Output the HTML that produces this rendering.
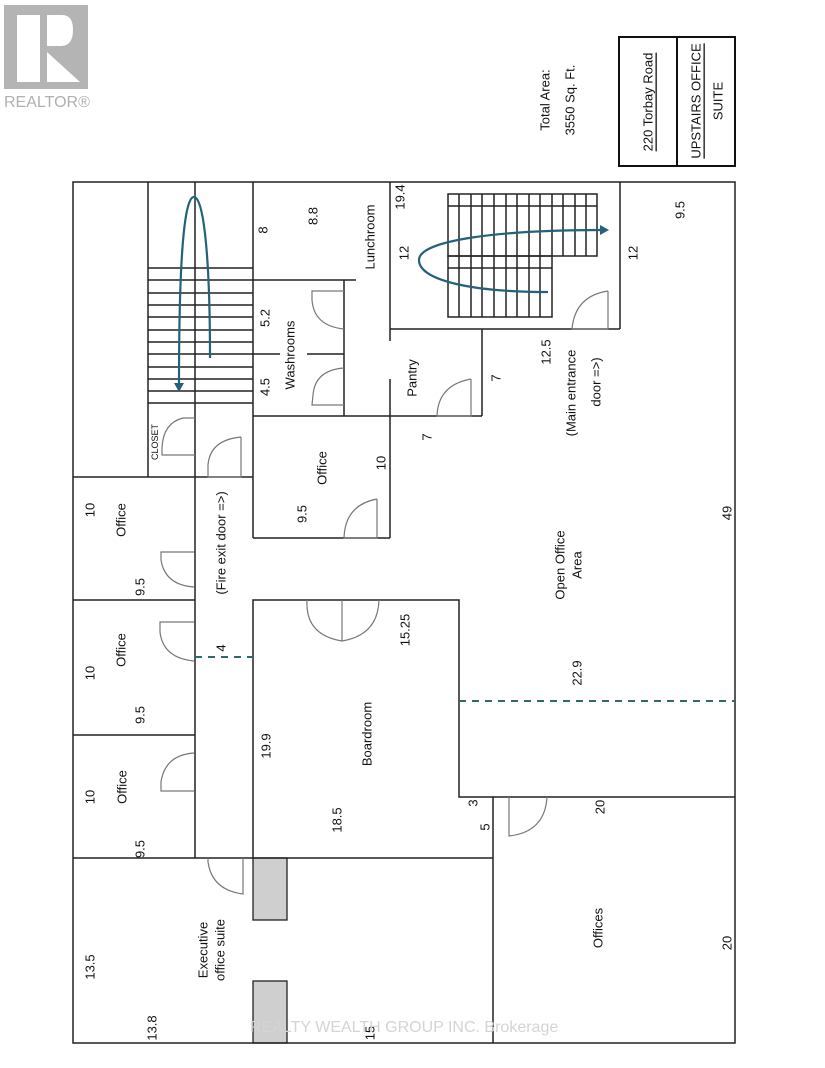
<!DOCTYPE html>
<html><head><meta charset="utf-8"><style>
html,body{margin:0;padding:0;background:#fff;}
svg{display:block;}
text{font-family:"Liberation Sans",Arial,sans-serif;font-size:13px;fill:#111;}
</style></head><body>
<svg width="825" height="1068" viewBox="0 0 825 1068" xmlns="http://www.w3.org/2000/svg">
<rect x="4" y="5" width="84" height="84" fill="#b4b4b4"/>
<rect x="17" y="15" width="23" height="67" fill="#fff"/>
<path d="M47,15 L62,15 Q73,15 73,30 Q73,45 62,46 L47,46 Z" fill="#fff"/>
<path d="M47,52 L47,82 L80,82 Z" fill="#fff"/>
<text x="4" y="107" style="font-size:16px;fill:#b0b0b0">REALTOR®</text>

<g transform="rotate(-90,545,100)"><text x="545" y="100" text-anchor="middle" dominant-baseline="central">Total Area:</text></g>
<g transform="rotate(-90,570,100)"><text x="570" y="100" text-anchor="middle" dominant-baseline="central">3550 Sq. Ft.</text></g>
<rect x="619" y="37" width="116" height="129" fill="none" stroke="#111" stroke-width="2"/>
<line x1="677" y1="37" x2="677" y2="166" stroke="#111" stroke-width="2"/>
<g transform="rotate(-90,648,102)"><text x="648" y="102" text-anchor="middle" dominant-baseline="central" text-decoration="underline">220 Torbay Road</text></g>
<g transform="rotate(-90,696,101)"><text x="696" y="101" text-anchor="middle" dominant-baseline="central" text-decoration="underline">UPSTAIRS OFFICE</text></g>
<g transform="rotate(-90,718,101)"><text x="718" y="101" text-anchor="middle" dominant-baseline="central">SUITE</text></g>

<rect x="253" y="858" width="34" height="62" fill="#cfcfcf" stroke="#222" stroke-width="1.3"/>
<rect x="253" y="981" width="34" height="62" fill="#cfcfcf" stroke="#222" stroke-width="1.3"/>

<g stroke="#222" stroke-width="1.5" fill="none">
<rect x="73" y="182" width="662" height="861"/>
<line x1="148" y1="182" x2="148" y2="477"/>
<line x1="195" y1="182" x2="195" y2="858"/>
<line x1="253" y1="182" x2="253" y2="538"/>
<line x1="73" y1="477" x2="253" y2="477"/>
<line x1="148" y1="403" x2="253" y2="403"/>
<path d="M148,268H253M148,280H253M148,293H253M148,305H253M148,317H253M148,330H253M148,342H253M148,354H253M148,367H253M148,379H253M148,391H253"/>
<line x1="253" y1="280" x2="356" y2="280"/>
<line x1="344" y1="280" x2="344" y2="416"/>
<line x1="253" y1="416" x2="482" y2="416"/>
<line x1="253" y1="354" x2="280" y2="354"/>
<line x1="307" y1="354" x2="344" y2="354"/>
<line x1="390" y1="182" x2="390" y2="341"/>
<line x1="390" y1="379" x2="390" y2="538"/>
<line x1="390" y1="329" x2="620" y2="329"/>
<line x1="620" y1="182" x2="620" y2="329"/>
<line x1="482" y1="329" x2="482" y2="416"/>
<line x1="253" y1="538" x2="390" y2="538"/>
<line x1="73" y1="600" x2="195" y2="600"/>
<line x1="73" y1="735" x2="195" y2="735"/>
<path d="M253,858 V600 H459 V797 H493 V1043"/>
<line x1="493" y1="797" x2="735" y2="797"/>
<line x1="73" y1="858" x2="493" y2="858"/>
<rect x="448" y="194" width="149" height="62"/>
<rect x="448" y="256" width="104" height="61"/>
<path d="M448,206H597M448,268H552"/>
<path d="M459,194V317M471,194V317M482,194V317M494,194V317M506,194V317M517,194V317M529,194V317M540,194V317M552,194V256M563,194V256M575,194V256M586,194V256"/>
</g>

<g stroke="#2e6a6a" stroke-width="2" stroke-dasharray="7,6" fill="none">
<line x1="195" y1="657" x2="253" y2="657"/>
<line x1="459" y1="701" x2="735" y2="701"/>
</g>

<g stroke="#23627a" stroke-width="2.2" fill="none">
<path d="M210,358 C210,250 203,197 194,197 C184,197 179,260 179,384"/>
<path d="M548,292 C470,292 419,280 419,260 C419,240 500,230 602,230"/>
</g>
<path d="M174,383 L184,383 L179,392 Z" fill="#23627a"/>
<path d="M600,225 L609,230 L600,235 Z" fill="#23627a"/>

<g stroke="#777" stroke-width="1.2" fill="none">
<path d="M195,418 L183,418 Q163,423 162,448 L162,455 L195,455"/>
<path d="M241,437 L241,477 L208,477 L208,465 Q210,440 241,437"/>
<path d="M344,291 L312,291 L312,300 Q314,326 344,329"/>
<path d="M344,368 Q315,370 313,395 L312,405 L344,405"/>
<path d="M471,379 L471,416 L437,416 Q438,385 471,379"/>
<path d="M608,291 L608,329 L572,329 Q575,296 608,291"/>
<path d="M377,499 L377,538 L344,538 Q345,505 377,499"/>
<path d="M307,600 Q305,635 342,641 Q378,635 379,600"/>
<line x1="342" y1="600" x2="342" y2="641"/>
<path d="M194,552 L161,552 L161,560 Q165,585 194,587"/>
<path d="M194,622 L160,622 L160,632 Q163,658 194,661"/>
<path d="M194,753 Q165,755 161,782 L161,791 L194,791"/>
<path d="M208,858 L208,862 Q212,890 243,894 L243,858"/>
<path d="M509,797 L509,836 Q545,832 547,797"/>
</g>

<g text-anchor="middle" dominant-baseline="central">
<g transform="rotate(-90,263,230)"><text x="263" y="230">8</text></g>
<g transform="rotate(-90,313,216)"><text x="313" y="216">8.8</text></g>
<g transform="rotate(-90,370,237)"><text x="370" y="237">Lunchroom</text></g>
<g transform="rotate(-90,400,197)"><text x="400" y="197">19.4</text></g>
<g transform="rotate(-90,404,253)"><text x="404" y="253">12</text></g>
<g transform="rotate(-90,680,210)"><text x="680" y="210">9.5</text></g>
<g transform="rotate(-90,633,253)"><text x="633" y="253">12</text></g>
<g transform="rotate(-90,265,318)"><text x="265" y="318">5.2</text></g>
<g transform="rotate(-90,290,355)"><text x="290" y="355">Washrooms</text></g>
<g transform="rotate(-90,265,387)"><text x="265" y="387">4.5</text></g>
<g transform="rotate(-90,412,378)"><text x="412" y="378">Pantry</text></g>
<g transform="rotate(-90,496,378)"><text x="496" y="378">7</text></g>
<g transform="rotate(-90,155,442)"><text x="155" y="442" style="font-size:9px">CLOSET</text></g>
<g transform="rotate(-90,427,437)"><text x="427" y="437">7</text></g>
<g transform="rotate(-90,546,352)"><text x="546" y="352">12.5</text></g>
<g transform="rotate(-90,571,393)"><text x="571" y="393">(Main entrance</text></g>
<g transform="rotate(-90,596,382)"><text x="596" y="382">door =&gt;)</text></g>
<g transform="rotate(-90,322,468)"><text x="322" y="468">Office</text></g>
<g transform="rotate(-90,381,463)"><text x="381" y="463">10</text></g>
<g transform="rotate(-90,302,514)"><text x="302" y="514">9.5</text></g>
<g transform="rotate(-90,90,510)"><text x="90" y="510">10</text></g>
<g transform="rotate(-90,121,520)"><text x="121" y="520">Office</text></g>
<g transform="rotate(-90,140,587)"><text x="140" y="587">9.5</text></g>
<g transform="rotate(-90,221,543)"><text x="221" y="543">(Fire exit door =&gt;)</text></g>
<g transform="rotate(-90,560,565)"><text x="560" y="565">Open Office</text></g>
<g transform="rotate(-90,577,565)"><text x="577" y="565">Area</text></g>
<g transform="rotate(-90,727,513)"><text x="727" y="513">49</text></g>
<g transform="rotate(-90,90,673)"><text x="90" y="673">10</text></g>
<g transform="rotate(-90,121,650)"><text x="121" y="650">Office</text></g>
<g transform="rotate(-90,140,715)"><text x="140" y="715">9.5</text></g>
<g transform="rotate(-90,221,648)"><text x="221" y="648">4</text></g>
<g transform="rotate(-90,405,630)"><text x="405" y="630">15.25</text></g>
<g transform="rotate(-90,266,746)"><text x="266" y="746">19.9</text></g>
<g transform="rotate(-90,367,734)"><text x="367" y="734">Boardroom</text></g>
<g transform="rotate(-90,577,673)"><text x="577" y="673">22.9</text></g>
<g transform="rotate(-90,90,797)"><text x="90" y="797">10</text></g>
<g transform="rotate(-90,122,787)"><text x="122" y="787">Office</text></g>
<g transform="rotate(-90,140,849)"><text x="140" y="849">9.5</text></g>
<g transform="rotate(-90,337,820)"><text x="337" y="820">18.5</text></g>
<g transform="rotate(-90,473,803)"><text x="473" y="803">3</text></g>
<g transform="rotate(-90,485,827)"><text x="485" y="827">5</text></g>
<g transform="rotate(-90,600,807)"><text x="600" y="807">20</text></g>
<g transform="rotate(-90,90,967)"><text x="90" y="967">13.5</text></g>
<g transform="rotate(-90,203,950)"><text x="203" y="950">Executive</text></g>
<g transform="rotate(-90,220,950)"><text x="220" y="950">office suite</text></g>
<g transform="rotate(-90,152,1028)"><text x="152" y="1028">13.8</text></g>
<g transform="rotate(-90,370,1033)"><text x="370" y="1033">15</text></g>
<g transform="rotate(-90,598,928)"><text x="598" y="928">Offices</text></g>
<g transform="rotate(-90,727,943)"><text x="727" y="943">20</text></g>
</g>
<text x="250" y="1032" style="font-size:16px;fill:#d4d4d4">REALTY WEALTH GROUP INC. Brokerage</text>
</svg>
</body></html>
